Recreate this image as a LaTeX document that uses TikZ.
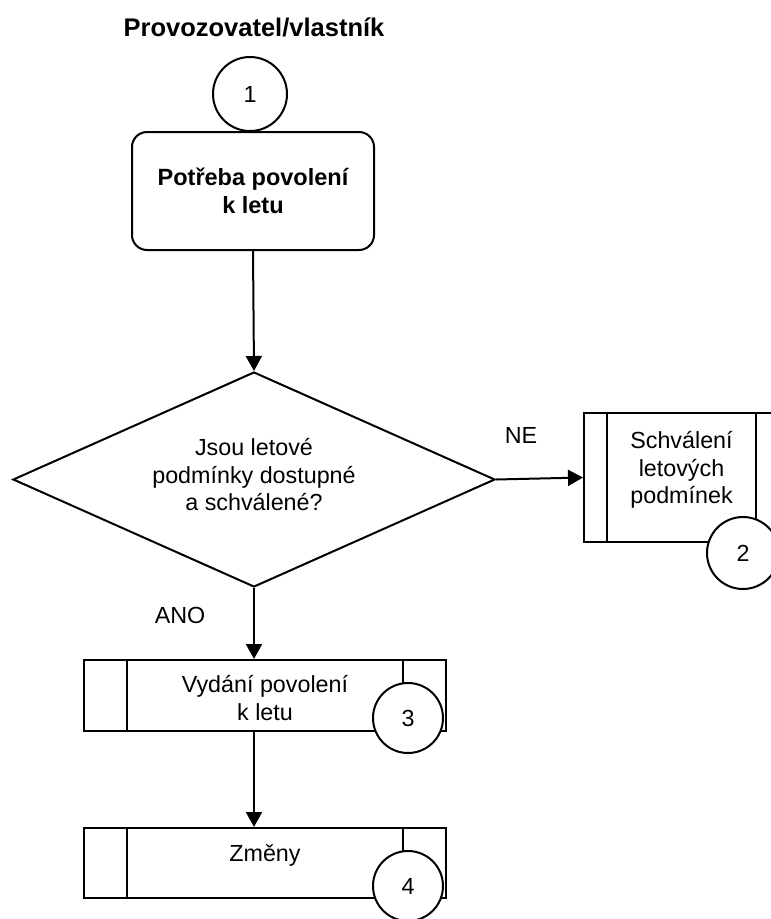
\documentclass[tikz,border=0pt]{standalone}
\usepackage{fontspec}
\setmainfont{Liberation Sans}
\usetikzlibrary{shapes.geometric,arrows.meta}
\begin{document}
\begin{tikzpicture}[x=1pt,y=-1pt,
  line width=2pt,
  txt/.style={font=\fontsize{23.3}{27.5}\selectfont, align=center},
  boldtxt/.style={font=\fontsize{23.5}{27.5}\selectfont\bfseries, align=center},
  startbox/.style={draw, rounded corners=15pt, minimum width=242pt, minimum height=118pt, inner sep=0pt, boldtxt},
  decision/.style={draw, diamond, aspect=2.25, minimum width=482pt, minimum height=215pt, inner sep=0pt},
  subproc/.style={draw, rectangle, inner sep=0pt, txt},
  refnum/.style={draw, circle, fill=white, minimum size=#1, inner sep=0pt, txt},
  arr/.style={-{Triangle[length=15pt,width=16pt]}}]
\useasboundingbox (0,0) rectangle (771,919);
\clip (0,0) rectangle (771,919);

% title
\node[boldtxt, font=\fontsize{25.5}{30}\selectfont\bfseries] (title) at (254,27) {Provozovatel/vlastník};

% start
\node[refnum=74pt] (c1) at (250,94) {1};
\node[startbox, fill=white] (start) at (253,191) {Potřeba povolení\\k letu};

% decision
\node[decision] (dia) at (254,479.5) {};
\node[txt] (q) at (254,475) {Jsou letové\\podmínky dostupné\\a schválené?};

% sub-process boxes
\node[subproc, minimum width=195pt, minimum height=129pt] (b2) at (681.5,477.5) {};
\node[txt] (b2t) at (681.5,470) {Schválení\\letových\\podmínek};
\draw ([xshift=24pt]b2.north west) -- ([xshift=24pt]b2.south west);
\draw ([xshift=-24pt]b2.north east) -- ([xshift=-24pt]b2.south east);
\node[refnum=72pt] (c2) at (743,553) {2};

\node[subproc, minimum width=362pt, minimum height=71pt] (b3) at (265,695.5) {};
\node[txt] (b3t) at (265,698) {Vydání povolení\\k letu};
\draw ([xshift=44pt]b3.north west) -- ([xshift=44pt]b3.south west);
\draw ([xshift=-44pt]b3.north east) -- ([xshift=-44pt]b3.south east);
\node[refnum=70pt] (c3) at (408,718) {3};

\node[subproc, minimum width=362pt, minimum height=70pt] (b4) at (265,863) {};
\node[txt] (b4t) at (265,855) {Změny};
\draw ([xshift=44pt]b4.north west) -- ([xshift=44pt]b4.south west);
\draw ([xshift=-44pt]b4.north east) -- ([xshift=-44pt]b4.south east);
\node[refnum=70pt] (c4) at (408,886) {4};

% connectors
\draw[arr] (start.south) -- (dia.north);
\draw[arr] (dia.east) -- (b2.west);
\draw[arr] (dia.south) -- (dia.south |- b3.north);
\draw[arr] (b3.south -| dia.south) -- (b4.north -| dia.south);

% branch labels
\node[txt] (ne) at (521,435) {NE};
\node[txt] (ano) at (180,615) {ANO};
\end{tikzpicture}
\end{document}
